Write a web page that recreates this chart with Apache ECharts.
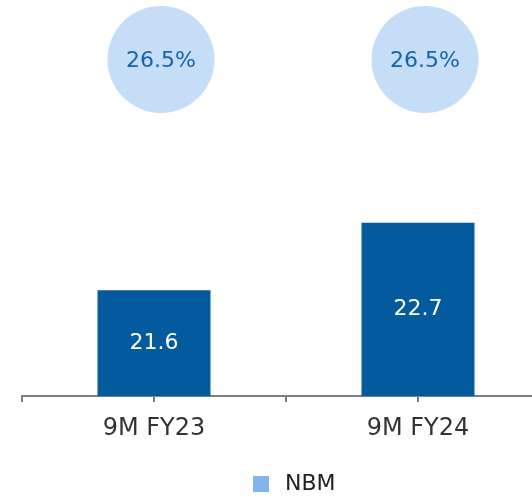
<!DOCTYPE html>
<html>
<head>
<meta charset="utf-8">
<script src="https://cdn.jsdelivr.net/npm/echarts@6/dist/echarts.min.js"></script>
<style>
html,body{margin:0;padding:0;background:#fff;}
#chart{width:532px;height:497px;}
</style>
</head>
<body>
<div id="chart"></div>
<script>
const categories = ['9M FY23', '9M FY24'];
const nbmValues = [21.6, 22.7];
const marginPct = [26.5, 26.5];
const seriesName = 'NBM';

const FONT = '"DejaVu Sans", Verdana, sans-serif';
const chart = echarts.init(document.getElementById('chart'));
chart.setOption({
  backgroundColor: '#ffffff',
  animation: false,
  textStyle: { fontFamily: FONT },
  legend: {
    data: [{ name: seriesName, itemStyle: { color: '#80b4ea' } }],
    left: 253, top: 473, padding: 0,
    icon: 'rect', itemWidth: 16, itemHeight: 16,
    textStyle: { fontSize: 22, color: '#222', fontFamily: FONT, padding: [0, 0, 0, 11] }
  },
  grid: [
    { left: 22, right: -18, top: 100, bottom: 101, outerBoundsMode: 'none', containLabel: false },
    { left: 22, right: -18, top: 6, height: 107, outerBoundsMode: 'none', containLabel: false }
  ],
  xAxis: [
    {
      type: 'category', data: categories, gridIndex: 0,
      axisLine: { show: true, lineStyle: { color: '#7f7f7f', width: 2 } },
      axisTick: { show: false },
      axisLabel: { fontSize: 24, color: '#333', margin: 21, fontFamily: FONT }
    },
    {
      type: 'category', data: categories, gridIndex: 1, show: false
    },
    {
      type: 'category', data: ['a', 'b', 'c', 'd'], gridIndex: 0, position: 'bottom',
      axisLine: { show: false },
      axisTick: { show: true, length: 6, lineStyle: { color: '#7f7f7f', width: 2 } },
      axisLabel: { show: false }
    }
  ],
  yAxis: [
    { type: 'value', gridIndex: 0, min: 19.88, max: 24.7, show: false, splitLine: { show: false } },
    { type: 'category', gridIndex: 1, data: ['m'], show: false }
  ],
  series: [
    {
      name: seriesName, type: 'bar', xAxisIndex: 0, yAxisIndex: 0,
      data: nbmValues, barWidth: 113,
      itemStyle: { color: '#035b9d' },
      label: {
        show: true, position: 'inside', color: '#ffffff', fontSize: 22, fontFamily: FONT,
        formatter: p => p.value.toFixed(1)
      }
    },
    {
      name: 'margin', type: 'scatter', xAxisIndex: 1, yAxisIndex: 1,
      data: categories.map(c => [c, 'm']),
      symbol: 'circle', symbolSize: 107, symbolOffset: [7, 0],
      itemStyle: { color: '#c5ddf6', opacity: 1 },
      label: {
        show: true, position: 'inside', offset: [0, 2], color: '#1565ae', fontSize: 22, fontFamily: FONT,
        formatter: p => marginPct[p.dataIndex].toFixed(1) + '%'
      },
      emphasis: { disabled: true }
    }
  ]
});
</script>
</body>
</html>
